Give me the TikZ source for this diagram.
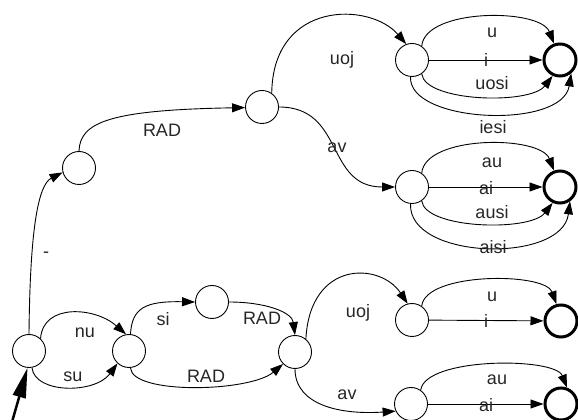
\documentclass[tikz,border=0pt]{standalone}
\usepackage{fontspec}
\setmainfont{Liberation Sans}
\usetikzlibrary{arrows.meta}
\begin{document}
\begin{tikzpicture}[x=1pt,y=1pt,
  state/.style={circle,draw,line width=0.9pt,minimum size=33pt,inner sep=0pt},
  final/.style={circle,draw,line width=3pt,minimum size=32pt,inner sep=0pt},
  trans/.style={draw,line width=0.9pt,-{Triangle[length=13pt,width=9pt]}},
  startarr/.style={draw,line width=2.5pt,-{Triangle[length=30pt,width=13pt]}},
  lbl/.style={font=\fontsize{18}{20}\selectfont,inner sep=0pt,text=black!85}]
\useasboundingbox (0,0) rectangle (578,420);
% states
\node[state] (q0) at (29,69) {};
\node[state] (q1) at (129,69) {};
\node[state] (q2) at (212,118) {};
\node[state] (q3) at (295,68) {};
\node[state] (q4) at (412,100) {};
\node[final] (q5) at (561,99) {};
\node[state] (q6) at (411,16) {};
\node[final] (q7) at (561,16) {};
\node[state] (q8) at (79,252) {};
\node[state] (q9) at (262,313) {};
\node[state] (q10) at (412,360) {};
\node[final] (q11) at (560,360) {};
\node[state] (q12) at (412,233) {};
\node[final] (q13) at (560,233) {};
% start
\coordinate (s) at (12,-2);
\draw[startarr] (s) -- (q0.-95);
% upper branch
\draw[trans] (q0.north) .. controls (30,190) and (38,235) .. (q8.195);
\draw[trans] (q8.north) .. controls (80,298) and (110,310) .. (q9.182);
\draw[trans] (q9.55) .. controls (273,420) and (370,418) .. (q10.110);
\draw[trans] (q9.east) .. controls (345,313) and (325,233) .. (q12.west);
\draw[trans] (q10.55) .. controls (425,412) and (540,412) .. (q11.110);
\draw[trans] (q10) -- (q11);
\draw[trans] (q10.-55) .. controls (425,318) and (530,315) .. (q11.-115);
\draw[trans] (q10.-95) .. controls (408,297) and (562,290) .. (q11.-50);
\draw[trans] (q12.55) .. controls (425,285) and (540,285) .. (q13.110);
\draw[trans] (q12) -- (q13);
\draw[trans] (q12.-55) .. controls (425,191) and (530,188) .. (q13.-115);
\draw[trans] (q12.-95) .. controls (408,160) and (562,156) .. (q13.-55);
% lower branch
\draw[trans] (q0.47) .. controls (43,117) and (95,113) .. (q1.100);
\draw[trans] (q0.-80) .. controls (35,26) and (95,26) .. (q1.227);
\draw[trans] (q1.85) .. controls (132,112) and (145,119) .. (q2.west);
\draw[trans] (q2.east) .. controls (265,118) and (292,108) .. (q3.north);
\draw[trans] (q1.-85) .. controls (132,25) and (250,28) .. (q3.225);
\draw[trans] (q3.50) .. controls (310,160) and (380,158) .. (q4.105);
\draw[trans] (q3.south) .. controls (295,15) and (340,5) .. (q6.205);
\draw[trans] (q4.55) .. controls (425,148) and (545,148) .. (q5.105);
\draw[trans] (q4) -- (q5);
\draw[trans] (q6.55) .. controls (425,63) and (555,63) .. (q7.70);
\draw[trans] (q6) -- (q7);
% labels
\node[lbl] (l1) at (46,165) {-};
\node[lbl] (l2) at (162,290) {RAD};
\node[lbl] (l3) at (342,360) {uoj};
\node[lbl] (l4) at (337,272) {av};
\node[lbl] (l5) at (492,387) {u};
\node[lbl] (l6) at (486,360) {i};
\node[lbl] (l7) at (492,337) {uosi};
\node[lbl] (l8) at (493,293) {iesi};
\node[lbl] (l9) at (492,257) {au};
\node[lbl] (l10) at (486,232) {ai};
\node[lbl] (l11) at (492,208) {ausi};
\node[lbl] (l12) at (493,173) {aisi};
\node[lbl] (l13) at (85,87) {nu};
\node[lbl] (l14) at (73,43) {su};
\node[lbl] (l15) at (163,101) {si};
\node[lbl] (l16) at (262,102) {RAD};
\node[lbl] (l17) at (206,44) {RAD};
\node[lbl] (l18) at (358,107) {uoj};
\node[lbl] (l19) at (347,25) {av};
\node[lbl] (l20) at (492,123) {u};
\node[lbl] (l21) at (486,99) {i};
\node[lbl] (l22) at (497,40) {au};
\node[lbl] (l23) at (486,15) {ai};
\end{tikzpicture}
\end{document}
